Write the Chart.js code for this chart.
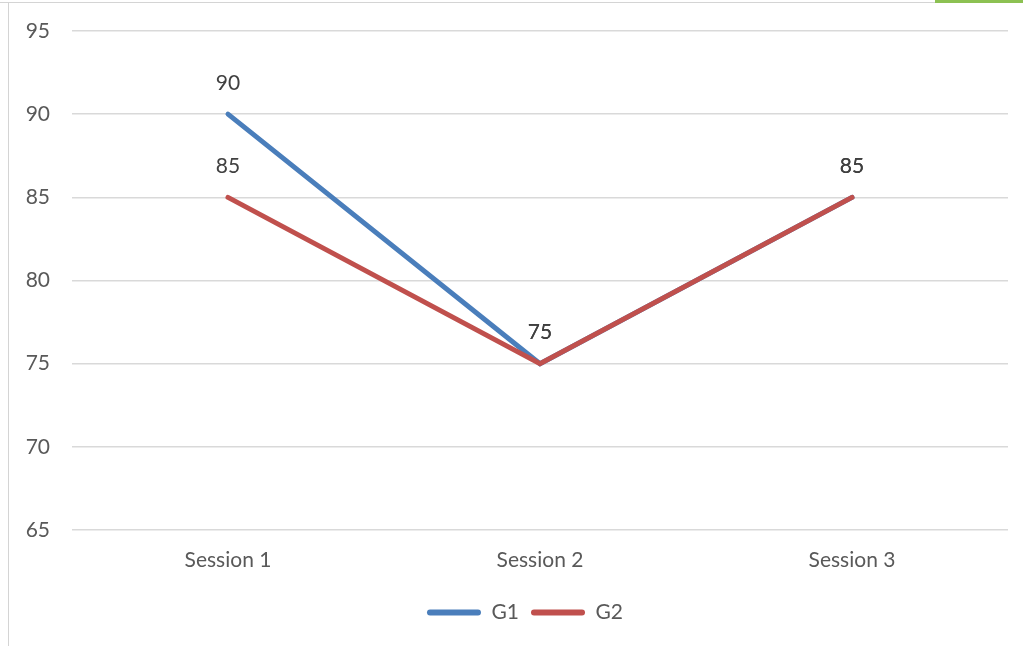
<!DOCTYPE html>
<html><head><meta charset="utf-8">
<script src="https://cdn.jsdelivr.net/npm/chart.js@4/dist/chart.umd.min.js"></script>
<style>
html,body{margin:0;padding:0;background:#fff;}
#wrap{position:relative;width:1023px;height:646px;}
#topline{position:absolute;left:0;top:2px;width:1023px;height:1px;background:#d4d4d4;}
#leftline{position:absolute;left:8px;top:3px;width:1px;height:643px;background:#d4d4d4;}
#green{position:absolute;left:935px;top:0;width:88px;height:3px;background:#8cc152;}
canvas{position:absolute;left:0;top:0;}
</style></head>
<body><div id="wrap"><div id="topline"></div><div id="leftline"></div><div id="green"></div><canvas id="c" width="1023" height="646"></canvas></div>
<script>
const categories = ["Session 1","Session 2","Session 3"];
const g1Values = [90, 75, 85];
const g2Values = [85, 75, 85];
const seriesNames = ["G1","G2"];

const FONT = "Lato, 'Open Sans', sans-serif";
const FS = 21;
const labelPlugin = {
  id:'dataLabels',
  afterLayout(chart){
    if (chart.legend) { chart.legend.left += 16; chart.legend.right += 16; }
  },
  afterDatasetsDraw(chart){
    const ctx = chart.ctx;
    ctx.save();
    ctx.font = FS + "px " + FONT;
    ctx.fillStyle = "#404040";
    ctx.textAlign = "center";
    ctx.textBaseline = "middle";
    chart.data.datasets.forEach((ds,i)=>{
      chart.getDatasetMeta(i).data.forEach((pt,j)=>{
        ctx.fillText(String(ds.data[j]), pt.x, pt.y - 31);
      });
    });
    ctx.restore();
  }
};

new Chart(document.getElementById('c'), {
  type:'line',
  data:{
    labels: categories,
    datasets:[
      {label:seriesNames[0], data:g1Values, order:1, borderColor:'#4a7ebb', backgroundColor:'#4a7ebb', borderWidth:5, pointRadius:0, tension:0, borderCapStyle:'round'},
      {label:seriesNames[1], data:g2Values, order:0, borderColor:'#c0504d', backgroundColor:'#c0504d', borderWidth:5, pointRadius:0, tension:0, borderCapStyle:'round'}
    ]
  },
  options:{
    responsive:false,
    animation:false,
    layout:{padding:{left:10,top:31,right:15,bottom:13}},
    plugins:{
      legend:{
        position:'bottom',
        labels:{
          font:{size:FS,family:FONT},
          color:'#595959',
          boxWidth:54, boxHeight:6,
          useBorderRadius:true, borderRadius:3,
          padding:12,
          generateLabels(chart){
            return chart.data.datasets.map((d,i)=>({text:d.label, fillStyle:d.borderColor, strokeStyle:d.borderColor, lineWidth:0, datasetIndex:i, fontColor:'#595959', borderRadius:3}));
          }
        }
      },
      tooltip:{enabled:false}
    },
    scales:{
      x:{
        offset:true,
        grid:{display:false, drawTicks:false},
        border:{display:false},
        ticks:{font:{size:FS,family:FONT}, color:'#595959', padding:18},
        afterFit(s){ s.height = 60; }
      },
      y:{
        min:65, max:95,
        grid:{color:'#d9d9d9', lineWidth:1.5, drawTicks:true, tickLength:22, tickColor:'rgba(0,0,0,0)'},
        border:{display:false},
        ticks:{stepSize:5, font:{size:FS,family:FONT}, color:'#595959', padding:0},
        afterFit(s){ s.width = 62; }
      }
    }
  },
  plugins:[labelPlugin]
});
</script></body></html>
